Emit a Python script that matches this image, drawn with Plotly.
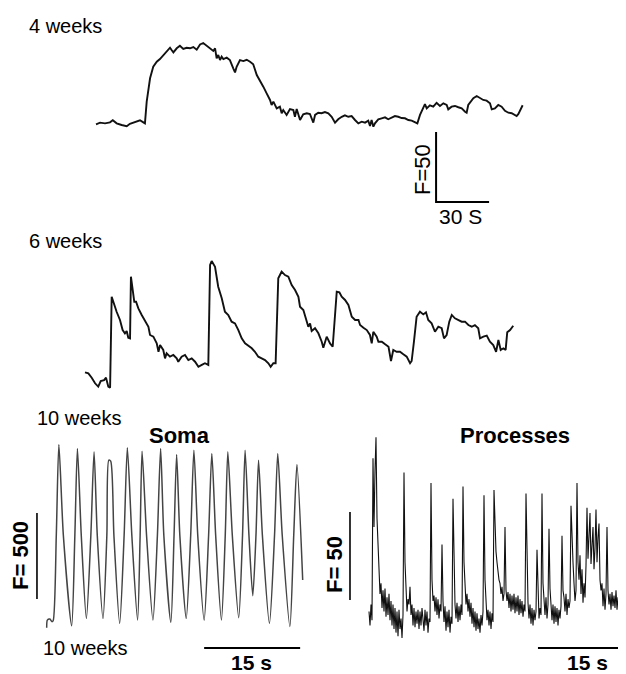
import plotly.graph_objects as go

# ---------------- data ----------------
# 4 weeks trace: time (s), fluorescence (F)
t1 = [0.0, 2.3, 5.1, 7.9, 9.5, 11.7, 14.5, 17.4, 19.2, 21.1,
      23.0, 24.9, 26.8, 27.7, 28.7, 29.6, 30.6, 32.4, 34.4, 36.2,
      38.1, 40.0, 41.9, 42.8, 43.8, 45.7, 47.5, 49.4, 51.3, 53.2,
      55.1, 57.0, 58.9, 60.7, 62.7, 64.5, 66.4, 67.4, 68.3, 69.2,
      70.2, 71.1, 72.1, 74.0, 75.8, 77.7, 78.7, 79.6, 81.5, 83.4,
      85.3, 87.2, 89.0, 91.0, 92.8, 94.7, 96.6, 98.5, 99.4, 100.4,
      102.3, 104.1, 105.1, 106.0, 107.9, 109.8, 111.7, 112.6, 113.6, 115.5,
      117.3, 119.3, 121.1, 123.0, 124.0, 125.8, 127.7, 129.6, 131.5, 133.4,
      135.3, 137.1, 139.1, 140.9, 142.8, 144.7, 146.6, 148.5, 150.4, 152.3,
      154.1, 155.1, 156.0, 157.0, 157.9, 159.8, 161.7, 163.6, 165.4, 167.4,
      169.2, 171.1, 173.0, 174.9, 176.8, 178.7, 180.6, 181.9, 183.4, 185.3,
      186.2, 187.2, 189.0, 190.9, 192.8, 194.7, 196.6, 198.5, 199.4, 201.3,
      203.2, 205.1, 207.0, 208.9, 209.8, 210.7, 212.6, 213.6, 215.5, 217.3,
      219.2, 221.1, 223.0, 224.0, 225.8, 227.7, 229.6, 231.5, 233.4, 235.3,
      237.2, 238.1, 239.1, 240.0, 241.5]
f1 = [1.2, 2.4, 1.9, 2.6, 4.1, 1.9, 0.7, -0.2, 1.6, 2.6,
      3.6, 4.1, 2.6, 1.9, 17.4, 26.9, 34.1, 42.3, 45.9, 47.8,
      50.7, 53.6, 55.9, 54.3, 52.6, 55.5, 57.3, 55.0, 55.9, 55.5,
      56.4, 54.5, 58.3, 59.3, 57.3, 55.5, 53.6, 55.5, 48.3, 50.7,
      47.1, 49.5, 47.8, 48.8, 47.1, 41.2, 38.3, 42.3, 47.1, 46.4,
      47.3, 45.9, 44.1, 36.4, 32.8, 28.1, 23.3, 18.6, 15.0, 17.4,
      12.6, 13.8, 9.1, 11.4, 7.9, 12.1, 11.4, 6.6, 12.1, 4.3,
      8.4, 9.1, 8.6, 2.4, 7.9, 9.5, 9.1, 10.0, 9.1, 6.6,
      2.4, 4.8, 6.6, 7.6, 6.6, 7.1, 4.3, 1.9, 3.1, 2.4,
      3.8, 0.0, 4.3, -0.5, 1.9, 4.8, 5.5, 6.2, 4.8, 6.2,
      7.1, 6.6, 5.7, 5.5, 4.3, 3.8, 2.4, 1.9, 7.9, 13.8,
      15.7, 12.6, 14.8, 13.8, 16.6, 14.3, 16.2, 15.0, 11.9, 13.8,
      14.3, 13.4, 12.6, 10.2, 9.5, 15.0, 18.6, 19.8, 21.4, 19.8,
      18.6, 18.1, 16.2, 11.9, 12.6, 15.0, 13.8, 10.9, 9.5, 9.1,
      7.9, 7.1, 8.6, 11.4, 14.8]

# 6 weeks trace
t2 = [0.0, 1.9, 3.8, 5.7, 7.5, 8.9, 10.8, 11.9, 13.2, 14.2,
      15.1, 16.0, 17.9, 19.8, 21.3, 22.6, 23.6, 24.5, 25.5, 26.0,
      27.0, 27.9, 28.9, 30.2, 32.1, 34.0, 35.9, 36.8, 38.7, 40.6,
      41.6, 42.5, 44.3, 45.3, 46.2, 48.1, 50.0, 51.9, 52.8, 54.7,
      56.6, 58.5, 60.4, 62.3, 64.2, 66.1, 67.9, 69.8, 70.8, 71.7,
      73.6, 75.4, 77.4, 79.2, 81.1, 83.0, 84.9, 86.8, 88.7, 90.6,
      92.5, 94.4, 96.2, 98.1, 100.0, 101.9, 103.8, 105.1, 106.6, 107.9,
      109.4, 111.3, 113.2, 115.1, 117.0, 118.9, 120.8, 121.7, 123.6, 125.5,
      126.4, 127.4, 128.3, 130.2, 132.1, 134.0, 134.9, 136.8, 138.7, 140.2,
      142.5, 144.0, 145.3, 147.2, 149.1, 151.0, 152.9, 154.8, 155.7, 157.6,
      159.5, 161.3, 162.3, 163.2, 165.1, 166.1, 168.0, 169.9, 171.8, 173.2,
      174.5, 176.4, 178.3, 180.2, 182.1, 184.0, 184.9, 186.2, 187.7, 189.6,
      191.5, 193.0, 194.3, 196.2, 198.1, 200.0, 201.9, 203.2, 204.7, 206.2,
      207.6, 209.4, 211.3, 213.2, 215.1, 217.0, 218.9, 220.7, 222.6, 223.6,
      225.5, 227.4, 229.2, 231.1, 232.7, 234.0, 235.3, 236.8, 238.1, 239.0,
      240.6, 242.4]
f2 = [12.6, 11.9, 8.8, 4.8, 2.4, 6.4, 7.1, 8.8, 2.4, 1.6,
      66.6, 63.0, 55.9, 50.0, 42.8, 40.5, 42.1, 37.3, 36.9, 80.9,
      72.6, 63.0, 63.0, 58.3, 53.6, 48.8, 45.2, 39.3, 38.1, 33.3,
      27.3, 32.1, 28.6, 22.6, 26.2, 23.8, 25.0, 22.6, 20.2, 23.8,
      25.0, 21.4, 22.6, 20.2, 16.6, 17.9, 19.1, 17.9, 89.3, 92.1,
      88.0, 73.8, 65.5, 55.9, 53.6, 48.8, 47.6, 42.8, 36.9, 33.3,
      31.6, 29.8, 27.3, 23.8, 22.6, 21.4, 19.1, 16.6, 19.1, 19.1,
      79.8, 84.5, 82.1, 80.9, 75.0, 71.4, 66.6, 59.5, 57.1, 48.8,
      45.2, 47.6, 42.1, 44.1, 40.5, 34.5, 30.2, 38.1, 33.3, 30.9,
      70.2, 69.8, 66.6, 64.3, 60.7, 52.3, 50.0, 50.0, 46.4, 44.5,
      42.8, 39.3, 33.3, 41.6, 38.1, 34.5, 34.5, 32.6, 30.9, 20.7,
      28.6, 27.3, 27.3, 25.5, 23.8, 19.1, 20.7, 34.5, 52.3, 55.9,
      54.0, 55.5, 50.0, 47.6, 41.6, 45.2, 44.1, 36.9, 39.3, 48.8,
      53.6, 51.2, 50.0, 48.8, 48.8, 46.4, 45.2, 46.4, 44.1, 36.9,
      38.1, 38.8, 34.5, 32.1, 27.3, 35.7, 28.6, 29.8, 28.6, 41.2,
      42.8, 45.9]

# 10 weeks soma trace
soma_t = [0.0, 0.1, 0.5, 0.8, 1.0, 1.5, 1.9, 2.6, 3.9, 4.4,
          4.8, 5.4, 6.2, 6.9, 7.4, 7.9, 8.8, 9.4, 9.7, 10.0,
          10.5, 11.4, 12.1, 12.6, 13.3, 14.2, 14.6, 14.9, 15.6, 16.6,
          17.3, 17.8, 18.3, 19.4, 19.9, 20.3, 20.8, 21.8, 22.5, 23.0,
          23.6, 24.6, 25.3, 25.8, 26.4, 27.3, 27.9, 28.3, 29.0, 30.0,
          30.6, 31.0, 31.6, 32.2, 32.7, 33.1, 33.7, 34.8, 35.6, 36.1,
          36.8, 38.0, 38.6, 39.1, 40.0]
soma_F = [2, 46, 52, 37, 41, 540, 1067, 540, 13, 540,
          1044, 540, 56, 540, 1024, 540, 56, 540, 976, 970,
          540, 27, 540, 1048, 540, 46, 540, 1028, 540, 46,
          540, 1044, 540, 33, 540, 1009, 540, 56, 540, 1034,
          540, 46, 540, 1015, 540, 46, 540, 1024, 540, 60,
          540, 1034, 540, 188, 540, 976, 540, 27, 540, 1015,
          540, 8, 540, 951, 279]

# 10 weeks processes trace (uniform sampling)
proc_dt = 15 / 88
proc_F = [2, -6, 6, -3, 89, 50, 82, 101, 55, 36,
          22, 12, 18, 4, 14, 2, 15, -1, 10, 0,
          12, -3, 8, -6, 6, -8, 4, -10, 2, -12,
          3, -8, -2, -13, 0, 81, 30, 10, 2, 9,
          6, 16, 0, 6, -6, 4, -7, 2, -5, 3,
          -8, 2, -6, 4, -3, -9, 3, -6, 2, -10,
          -2, -4, 75, 20, 8, 11, 2, 10, 0, 9,
          -2, 6, 2, 40, 8, -4, 5, -9, 2, -7,
          3, -10, -1, -5, 66, 25, 6, -2, 7, -4,
          5, -3, 6, 0, 73, 30, 14, 6, 12, 2,
          9, -1, 7, -5, 4, -7, 2, -9, 1, -8,
          -2, -10, 0, -6, 2, 68, 20, 6, -3, 3,
          -6, 2, -8, 1, -4, 71, 50, 36, 30, 24,
          20, 18, 12, 16, 8, 12, 50, 14, 8, 13,
          4, 12, 2, 11, 3, 12, 1, 10, 2, 11,
          0, 9, 1, 8, -1, 6, 2, 69, 22, 7,
          -2, 6, -5, 4, -6, 3, -3, 2, 37, 10,
          -2, 4, 0, 69, 18, 9, 0, 10, -2, 6,
          49, 15, 4, -3, 6, -5, 5, -4, 4, -6,
          3, -2, 5, 45, 14, 10, 2, 12, 0, 9,
          4, 8, 62, 40, 30, 18, 8, 14, 75, 30,
          20, 34, 12, 26, 7, 18, 10, 28, 61, 32,
          47, 58, 29, 40, 50, 26, 38, 60, 30, 44,
          52, 20, 14, 18, 5, 15, 3, 12, 50, 14,
          6, 12, 3, 13, 5, 11, 4, 14, 3, 10,
          6, 12, 4, 58, 18, 6, 11, 4]

# scale bars (value, anchor in data units)
bar1_F, bar1_s = 50, 30
bar1_t0, bar1_f0 = 192.5, -54.3
soma_bar_F, soma_bar_s = 500, 15
soma_vbar_t, soma_vbar_f0 = -1.52, 168.6
soma_hbar_t0, soma_hbar_f = 24.6, -116.3
proc_bar_F, proc_bar_s = 50, 15
proc_vbar_t, proc_vbar_f0 = -3.24, 8.5
proc_hbar_t0, proc_hbar_f = 28.8, -18.7

# ---------------- layout helpers ----------------
W, H = 626, 674          # browser window
OFF = 8                  # default page body margin
FW, FH = W - OFF, H - OFF
FONT = "Liberation Sans, Arial, Helvetica, sans-serif"


def xr(ox, k):
    return [(OFF - ox) * k, (W - ox) * k]


def yr(oy, k):
    return [(oy - H) * k, (oy - OFF) * k]


def px(x):
    return (x - OFF) / FW


def py(y):
    return 1 - (y - OFF) / FH


fig = go.Figure()

# traces
fig.add_trace(go.Scatter(x=t1, y=f1, mode="lines", xaxis="x", yaxis="y",
                         line=dict(color="#111111", width=1.9)))
fig.add_trace(go.Scatter(x=t2, y=f2, mode="lines", xaxis="x2", yaxis="y2",
                         line=dict(color="#111111", width=1.9)))
fig.add_trace(go.Scatter(x=soma_t, y=soma_F, mode="lines", xaxis="x3", yaxis="y3",
                         line=dict(color="#444444", width=1.5, shape="spline", smoothing=0.7)))
fig.add_trace(go.Scatter(y=proc_F, x0=0, dx=proc_dt, mode="lines", xaxis="x4", yaxis="y4",
                         line=dict(color="#111111", width=1.1)))

# scale bars
bar = dict(color="black", width=2)
fig.add_trace(go.Scatter(x=[bar1_t0, bar1_t0, bar1_t0 + bar1_s],
                         y=[bar1_f0 + bar1_F, bar1_f0, bar1_f0],
                         mode="lines", xaxis="x", yaxis="y", line=bar))
fig.add_trace(go.Scatter(x=[soma_vbar_t, soma_vbar_t],
                         y=[soma_vbar_f0, soma_vbar_f0 + soma_bar_F],
                         mode="lines", xaxis="x3", yaxis="y3", line=dict(color="black", width=1.6)))
fig.add_trace(go.Scatter(x=[soma_hbar_t0, soma_hbar_t0 + soma_bar_s],
                         y=[soma_hbar_f, soma_hbar_f],
                         mode="lines", xaxis="x3", yaxis="y3", line=bar))
fig.add_trace(go.Scatter(x=[proc_vbar_t, proc_vbar_t],
                         y=[proc_vbar_f0, proc_vbar_f0 + proc_bar_F],
                         mode="lines", xaxis="x4", yaxis="y4", line=dict(color="black", width=1.6)))
fig.add_trace(go.Scatter(x=[proc_hbar_t0, proc_hbar_t0 + proc_bar_s],
                         y=[proc_hbar_f, proc_hbar_f],
                         mode="lines", xaxis="x4", yaxis="y4", line=bar))


def ax(rng, anchor):
    return dict(domain=[0, 1], range=rng, visible=False, fixedrange=True, anchor=anchor)


layout = dict(
    width=FW, height=FH,
    margin=dict(l=0, r=0, t=0, b=0),
    paper_bgcolor="white", plot_bgcolor="rgba(0,0,0,0)",
    showlegend=False,
    xaxis=ax(xr(96, 30 / 53), "y"), yaxis=ax(yr(126, 50 / 70), "x"),
    xaxis2=ax(xr(85, 30 / 53), "y2"), yaxis2=ax(yr(390, 50 / 70), "x2"),
    xaxis3=ax(xr(46.7, 15 / 96), "y3"), yaxis3=ax(yr(628, 500 / 86), "x3"),
    xaxis4=ax(xr(369, 15 / 88), "y4"), yaxis4=ax(yr(615, 50 / 88), "x4"),
)
fig.update_layout(**layout)


def label(text, x, y, size, bold=False, angle=0, xanchor="center"):
    fig.add_annotation(text=f"<b>{text}</b>" if bold else text,
                       x=px(x), y=py(y), xref="paper", yref="paper",
                       xanchor=xanchor, yanchor="middle", showarrow=False,
                       textangle=angle, borderpad=0,
                       font=dict(family=FONT, size=size, color="black"))


label("4 weeks", 28, 26, 20, xanchor="left")
label("6 weeks", 28, 241, 20, xanchor="left")
label("10 weeks", 36, 418, 20, xanchor="left")
label("10 weeks", 42, 648, 20, xanchor="left")
label("F=50", 423, 170, 22, angle=-90)
label("30 S", 460, 216, 21)
label("Soma", 179, 435, 22, bold=True)
label("Processes", 515, 436, 22, bold=True)
label("F= 500", 20, 556, 22, bold=True, angle=-90)
label("15 s", 252, 662, 21, bold=True)
label("F= 50", 334, 564, 22, bold=True, angle=-90)
label("15 s", 587, 662, 21, bold=True)

fig.write_html("out.html")
